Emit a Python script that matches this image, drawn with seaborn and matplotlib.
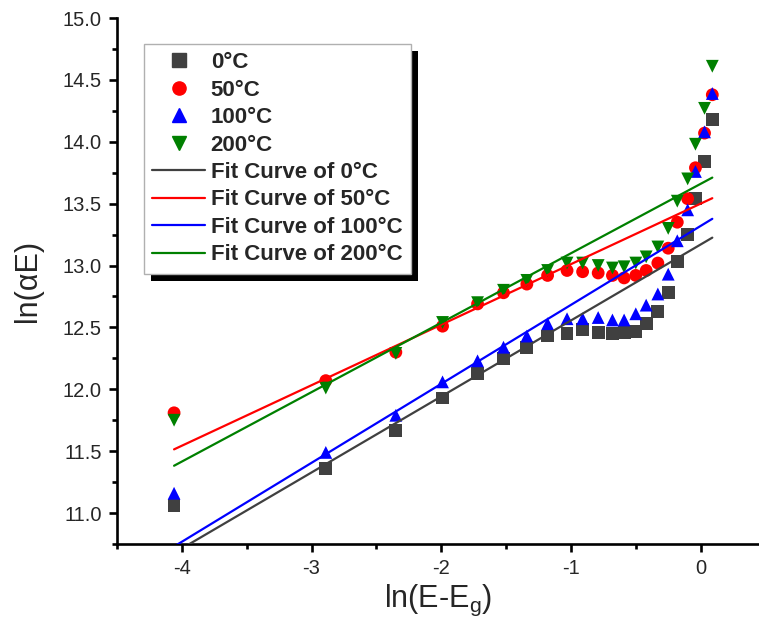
import numpy as np
import pandas as pd
import seaborn as sns
import matplotlib.pyplot as plt
from matplotlib.lines import Line2D
from matplotlib.patches import Rectangle

# ln(E-Eg) values shared by all temperatures
x_vals = [-4.06, -2.89, -2.35, -1.99, -1.72, -1.52, -1.34, -1.18, -1.03, -0.91, -0.79,
          -0.68, -0.59, -0.50, -0.42, -0.33, -0.25, -0.18, -0.10, -0.04, 0.03, 0.09]

# ln(alpha E) for each temperature
y_0 = [11.06, 11.36, 11.67, 11.93, 12.13, 12.25, 12.34, 12.43, 12.45, 12.48, 12.46,
       12.45, 12.46, 12.47, 12.53, 12.63, 12.78, 13.03, 13.25, 13.54, 13.84, 14.18]
y_50 = [11.81, 12.07, 12.30, 12.51, 12.69, 12.78, 12.85, 12.92, 12.96, 12.95, 12.94,
        12.92, 12.90, 12.92, 12.96, 13.02, 13.14, 13.35, 13.54, 13.79, 14.07, 14.38]
y_100 = [11.16, 11.49, 11.79, 12.06, 12.23, 12.34, 12.43, 12.53, 12.57, 12.57, 12.58,
         12.56, 12.56, 12.61, 12.68, 12.77, 12.93, 13.20, 13.45, 13.76, 14.08, 14.39]
y_200 = [11.75, 12.01, 12.29, 12.54, 12.70, 12.80, 12.88, 12.96, 13.02, 13.02, 13.00,
         12.98, 12.99, 13.02, 13.07, 13.15, 13.30, 13.52, 13.70, 13.98, 14.27, 14.61]

temps = ['0°C', '50°C', '100°C', '200°C']
# linear fit parameters (slope, intercept)
fit_slope = [0.614, 0.489, 0.638, 0.561]
fit_icept = [13.17, 13.50, 13.32, 13.66]

colors = {'0°C': '#404040', '50°C': '#ff0000', '100°C': '#0000ff', '200°C': '#008000'}
markers = {'0°C': 's', '50°C': 'o', '100°C': '^', '200°C': 'v'}

pts = pd.DataFrame({
    'x': x_vals * 4,
    'y': y_0 + y_50 + y_100 + y_200,
    'temp': np.repeat(temps, len(x_vals)),
})

x_fit = np.array([x_vals[0], x_vals[-1]])
fits = pd.DataFrame({
    'x': np.tile(x_fit, 4),
    'y': np.concatenate([s * x_fit + b for s, b in zip(fit_slope, fit_icept)]),
    'temp': np.repeat(temps, 2),
})

sns.set_style('ticks')
plt.rcParams['font.family'] = ['Liberation Sans', 'DejaVu Sans']
plt.rcParams['mathtext.fontset'] = 'custom'
plt.rcParams['mathtext.rm'] = 'Liberation Sans'
plt.rcParams['mathtext.it'] = 'Liberation Sans:italic'
plt.rcParams['axes.unicode_minus'] = False

fig = plt.figure(figsize=(7.59, 6.43), dpi=100)
ax = fig.add_axes([117 / 759, 99 / 643, 642 / 759, 526 / 643])

sns.scatterplot(data=pts, x='x', y='y', hue='temp', style='temp', palette=colors,
                markers=markers, s=85, linewidth=0, legend=False, ax=ax, zorder=3)
sns.lineplot(data=fits, x='x', y='y', hue='temp', palette=colors, linewidth=1.6,
             legend=False, ax=ax, zorder=4)

ax.set_xlim(-4.5, 0.45)
ax.set_ylim(10.75, 15.0)
ax.set_xticks([-4, -3, -2, -1, 0])
ax.set_xticks(np.arange(-4.5, 0.5, 0.5), minor=True)
ax.set_yticks(np.arange(11.0, 15.01, 0.5))
ax.set_yticks(np.arange(10.75, 15.01, 0.25), minor=True)
ax.yaxis.set_major_formatter(plt.FormatStrFormatter('%.1f'))

for side in ['top', 'right']:
    ax.spines[side].set_visible(False)
for side in ['left', 'bottom']:
    ax.spines[side].set_linewidth(1.9)
    ax.spines[side].set_color('black')
ax.tick_params(which='major', length=6, width=1.9, labelsize=14.5, pad=5, color='black')
ax.tick_params(which='minor', length=3.5, width=1.9, color='black')

ax.set_xlabel(r'ln(E-E$_\mathregular{g}$)', fontsize=22, labelpad=3)
ax.set_ylabel('ln(αE)', fontsize=22, labelpad=14)

handles = [Line2D([], [], ls='', marker=markers[t], color=colors[t], markersize=9.5)
           for t in temps]
handles += [Line2D([], [], color=colors[t], lw=1.6) for t in temps]
labels = temps + ['Fit Curve of ' + t for t in temps]
leg = ax.legend(handles, labels, loc='upper left', bbox_to_anchor=(0.042, 0.951),
                borderaxespad=0, frameon=True, fancybox=False, edgecolor='#b0b0b0',
                facecolor='white', framealpha=1,
                prop={'weight': 'bold', 'size': 16}, handlelength=2.35,
                handletextpad=0.27, labelspacing=0.29, borderpad=0.38)
leg.get_frame().set_linewidth(1.0)
leg.set_zorder(10)

# hard black drop shadow behind the legend box
fig.canvas.draw()
bb = leg.get_frame().get_window_extent()
inv = ax.transAxes.inverted()
(x0, y0), (x1, y1) = inv.transform([[bb.x0 + 7, bb.y0 - 7], [bb.x1 + 7, bb.y1 - 7]])
ax.add_patch(Rectangle((x0, y0), x1 - x0, y1 - y0, transform=ax.transAxes,
                       facecolor='black', edgecolor='none', zorder=9, clip_on=False))

fig.savefig('out.png', dpi=100)
